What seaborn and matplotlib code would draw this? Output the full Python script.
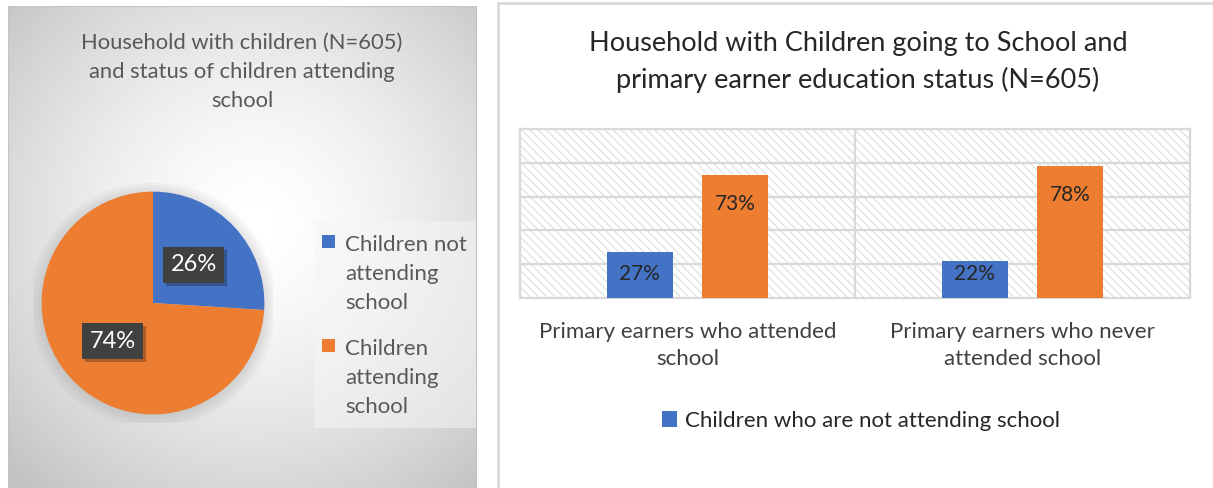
import numpy as np
import pandas as pd
import matplotlib
matplotlib.use("Agg")
import matplotlib.pyplot as plt
import matplotlib.patheffects as pe
from matplotlib.patches import Rectangle, Circle
import seaborn as sns

# ---- data ----
pie_labels = ["Children not\nattending\nschool", "Children\nattending\nschool"]
pie_values = [26, 74]

bar_categories = ["Primary earners who attended\nschool",
                  "Primary earners who never\nattended school"]
series_names = ["Children who are not attending school",
                "Children who are attending school"]
not_attending = [27, 22]
attending = [73, 78]

BLUE = "#4472C4"
ORANGE = "#ED7D31"

sns.set_theme(style="white")
plt.rcParams["font.family"] = ["Lato", "DejaVu Sans"]

W, H = 1213, 488
fig = plt.figure(figsize=(W / 100, H / 100), dpi=100)
fig.patch.set_facecolor("white")


def fx(px):
    return px / W


def fy(py):
    return 1 - py / H


# ---- left panel: radial gradient background ----
bg = fig.add_axes([fx(8), 0, fx(477) - fx(8), fy(6)])
bg.set_axis_off()
xs = np.linspace(8, 477, 300)
ys = np.linspace(6, 488, 300)
X, Y = np.meshgrid(xs, ys)
d = np.hypot(X - 255, Y - 225)
v = 1 - 0.21 * (d / 320) ** 1.5
v = np.clip(v, 0.76, 1)
bg.imshow(v, cmap="gray", vmin=0, vmax=1, extent=(8, 477, 488, 6),
          aspect="auto", interpolation="bilinear")
bg.set_xlim(8, 477)
bg.set_ylim(488, 6)
bg.add_patch(Rectangle((8, 6), 469, 490, fill=False, edgecolor="#c4c4c4", lw=1.5))
# legend backdrop
bg.add_patch(Rectangle((314, 221), 162, 207, facecolor="#f6f6f6",
                       edgecolor="none", alpha=0.5))

fig.text(fx(242), fy(72), "Household with children (N=605)\nand status of children attending\nschool",
         ha="center", va="center", fontsize=15.8, color="#595959", linespacing=1.55)

# ---- pie ----
pax = fig.add_axes([fx(33), fy(423), fx(240), 240 / H])
pax.set_xlim(-1.2, 1.2)
pax.set_ylim(-1.2, 1.2)
pax.set_aspect("equal")
pax.set_axis_off()
for k in range(8):
    pax.add_patch(Circle((0.0, -0.02), 1.15 + 0.02 * k, facecolor="#7a7a7a",
                         edgecolor="none", alpha=0.03, zorder=0))
wedges, _, autotexts = pax.pie(
    pie_values, colors=[BLUE, ORANGE], startangle=90, counterclock=False,
    radius=1.16, autopct=lambda p: f"{p:.0f}%", pctdistance=0.5,
    textprops=dict(color="white", fontsize=17),
    wedgeprops=dict(edgecolor="none"))
for t in autotexts:
    t.set_bbox(dict(boxstyle="square,pad=0.32", facecolor="#404040",
                    edgecolor="none"))
    t.get_bbox_patch().set_path_effects(
        [pe.withSimplePatchShadow(offset=(2, -2), shadow_rgbFace="black", alpha=0.25)])

# pie legend: colour squares beside wrapped labels
leg_tops = [243, 347]
for wedge, label, ty in zip(wedges, pie_labels, leg_tops):
    fig.add_artist(Rectangle((fx(322), fy(ty + 5)), fx(13), 13 / H,
                             transform=fig.transFigure,
                             facecolor=wedge.get_facecolor(), edgecolor="none"))
    fig.text(fx(345), fy(ty - 8), label, ha="left", va="top", fontsize=16,
             color="#595959", linespacing=1.55)

# ---- right panel frame ----
fig.add_artist(Rectangle((fx(498), fy(520)), fx(1213) - fx(498) + 0.01, fy(3) - fy(520),
                         transform=fig.transFigure, fill=False,
                         edgecolor="#d9d9d9", lw=2))

fig.text(fx(858), fy(62), "Household with Children going to School and\nprimary earner education status (N=605)",
         ha="center", va="center", fontsize=19.5, color="#262626", linespacing=1.55)

# ---- grouped bar chart ----
df = pd.DataFrame({
    "category": bar_categories * 2,
    "series": [series_names[0]] * 2 + [series_names[1]] * 2,
    "value": not_attending + attending,
})

plt.rcParams["hatch.linewidth"] = 0.7
bax = fig.add_axes([fx(520), fy(298), fx(1190) - fx(520), 169 / H])
bax.add_patch(Rectangle((0, 0), 1, 1, transform=bax.transAxes, facecolor="white",
                        edgecolor="#d9d9d9", hatch="\\\\\\\\", lw=0, zorder=0))
sns.barplot(data=df, x="category", y="value", hue="series",
            hue_order=series_names, palette=[BLUE, ORANGE],
            width=0.57, gap=0.31, legend=False, ax=bax, zorder=3,
            saturation=1, linewidth=0)
bax.set_ylim(0, 100)
bax.set_xlim(-0.5, 1.5)
bax.set_yticks([0, 20, 40, 60, 80, 100])
bax.set_yticklabels([])
bax.tick_params(axis="both", length=0)
for yv in [20, 40, 60, 80]:
    bax.axhline(yv, color="#d9d9d9", lw=1.6, zorder=1)
bax.axvline(0.5, color="#d9d9d9", lw=1.6, zorder=1)
for s in bax.spines.values():
    s.set_visible(True)
    s.set_color("#d9d9d9")
    s.set_linewidth(1.6)
bax.set_xlabel("")
bax.set_ylabel("")
bax.set_xticks([0, 1])
bax.set_xticklabels(bar_categories, fontsize=16, color="#404040", linespacing=1.45)
bax.tick_params(axis="x", pad=17)

# value labels sit just inside the bar top; short bars keep them off the base
px_per_unit = (169 / 100)
for cont in bax.containers:
    for bar, val in zip(cont.patches, cont.datavalues):
        h_px = val * px_per_unit
        drop_px = min(29, h_px - 24)
        bax.annotate(f"{val:.0f}%", (bar.get_x() + bar.get_width() / 2, val),
                     xytext=(0, -drop_px * 0.72), textcoords="offset points",
                     ha="center", va="center", fontsize=15, color="#262626",
                     zorder=5)

fig.legend([bax.containers[0]], [series_names[0]], loc="center",
           bbox_to_anchor=(fx(861), fy(421)), frameon=False, fontsize=16,
           labelcolor="#262626", handlelength=0.7, handleheight=0.7,
           handletextpad=0.35)

fig.savefig("out.png", dpi=100)
